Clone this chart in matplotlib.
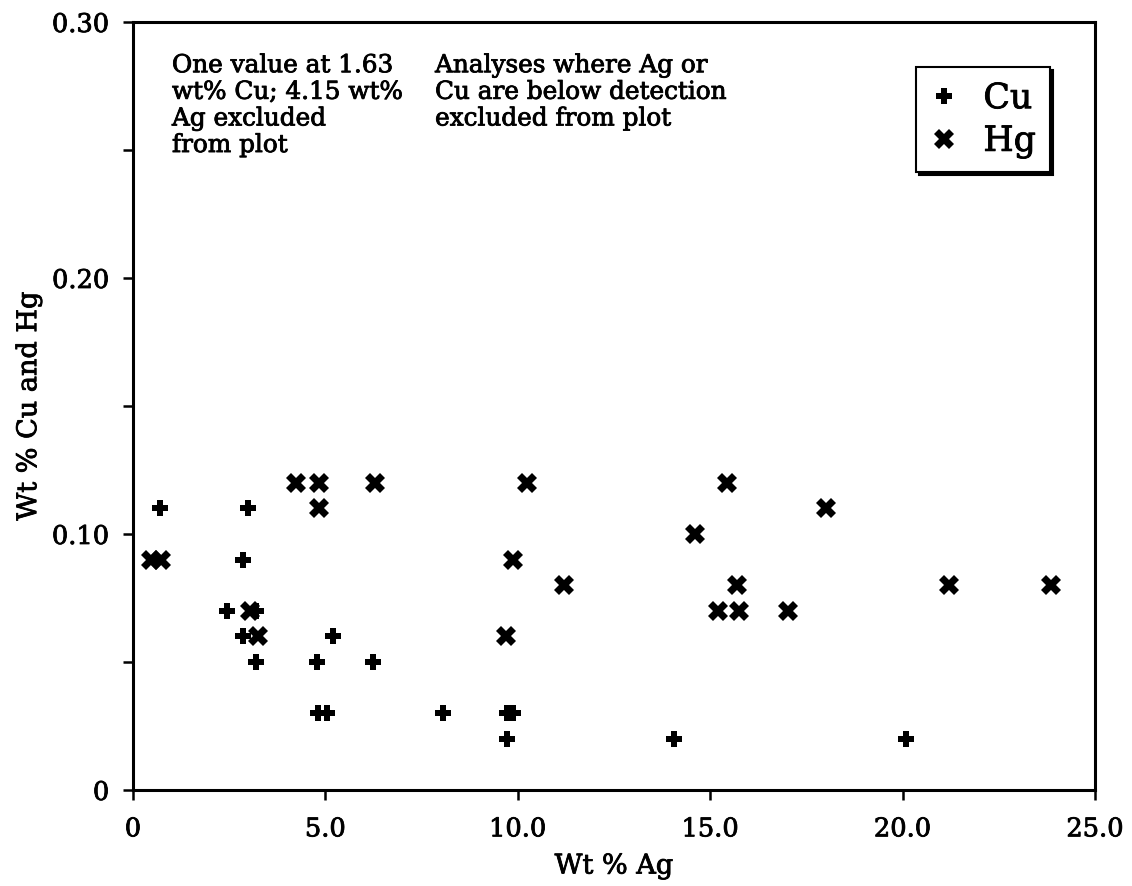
import matplotlib.pyplot as plt
import matplotlib.patheffects as pe
from matplotlib.ticker import MultipleLocator, FixedFormatter, FixedLocator

plt.rcParams['font.family'] = ['DejaVu Serif']

# Cu points (wt % Ag, wt % Cu)
cu_ag = [0.70, 3.00, 2.85, 2.44, 3.20, 2.85, 5.21, 3.20, 4.79, 6.24,
         4.82, 5.03, 8.05, 9.72, 9.88, 9.71, 14.06, 20.10]
cu_val = [0.11, 0.11, 0.09, 0.07, 0.07, 0.06, 0.06, 0.05, 0.05, 0.05,
          0.03, 0.03, 0.03, 0.03, 0.03, 0.02, 0.02, 0.02]

# Hg points (wt % Ag, wt % Hg)
hg_ag = [0.46, 0.74, 4.23, 4.83, 6.29, 10.23, 15.43, 4.83, 18.00, 14.60,
         9.88, 11.20, 15.70, 21.20, 23.86, 3.05, 15.21, 15.76, 17.01, 3.24, 9.69]
hg_val = [0.09, 0.09, 0.12, 0.12, 0.12, 0.12, 0.12, 0.11, 0.11, 0.10,
          0.09, 0.08, 0.08, 0.08, 0.08, 0.07, 0.07, 0.07, 0.07, 0.06, 0.06]

x_ticks = [0, 5, 10, 15, 20, 25]
x_labels = ['0', '5.0', '10.0', '15.0', '20.0', '25.0']
y_ticks = [0, 0.10, 0.20, 0.30]
y_labels = ['0', '0.10', '0.20', '0.30']

note_left = "One value at 1.63\nwt% Cu; 4.15 wt%\nAg excluded\nfrom plot"
note_right = "Analyses where Ag or\nCu are below detection\nexcluded from plot"

# slightly heavier strokes, like the scanned serif face
heavy = [pe.withStroke(linewidth=0.6, foreground='black')]

fig = plt.figure(figsize=(11.32, 8.86), dpi=100)
ax = fig.add_axes([0.1175, 0.1084, 0.8498, 0.8668])

ax.plot(cu_ag, cu_val, linestyle='none', marker='P', markersize=12,
        color='black', markeredgewidth=0, label='Cu')
ax.plot(hg_ag, hg_val, linestyle='none', marker='X', markersize=14,
        color='black', markeredgewidth=0, label='Hg')

ax.set_xlim(0, 25)
ax.set_ylim(0, 0.30)
ax.xaxis.set_major_locator(FixedLocator(x_ticks))
ax.xaxis.set_major_formatter(FixedFormatter(x_labels))
ax.yaxis.set_major_locator(FixedLocator(y_ticks))
ax.yaxis.set_major_formatter(FixedFormatter(y_labels))
ax.yaxis.set_minor_locator(MultipleLocator(0.05))

for s in ax.spines.values():
    s.set_linewidth(2.2)
ax.tick_params(which='both', direction='out', length=7, width=1.8, labelsize=18.5)
ax.tick_params(axis='x', pad=12)
ax.tick_params(axis='y', pad=10)

ax.set_xlabel('Wt % Ag', fontsize=19.5, labelpad=8, path_effects=heavy)
ax.set_ylabel('Wt % Cu and Hg', fontsize=19.5, labelpad=7, path_effects=heavy)
for lab in ax.get_xticklabels() + ax.get_yticklabels():
    lab.set_path_effects(heavy)

ax.text(0.0405, 0.958, note_left, transform=ax.transAxes, fontsize=17.8,
        va='top', ha='left', path_effects=heavy)
ax.text(0.314, 0.958, note_right, transform=ax.transAxes, fontsize=17.8,
        va='top', ha='left', path_effects=heavy)

leg = ax.legend(loc='upper right', bbox_to_anchor=(0.953, 0.941), borderaxespad=0,
                fontsize=25, handlelength=0.8, handletextpad=0.73, labelspacing=0.25,
                fancybox=False, framealpha=1, edgecolor='black',
                shadow={'color': 'black', 'alpha': 1})
leg.get_frame().set_linewidth(1.5)
for t in leg.get_texts():
    t.set_path_effects(heavy)

fig.savefig('out.png', dpi=100)
